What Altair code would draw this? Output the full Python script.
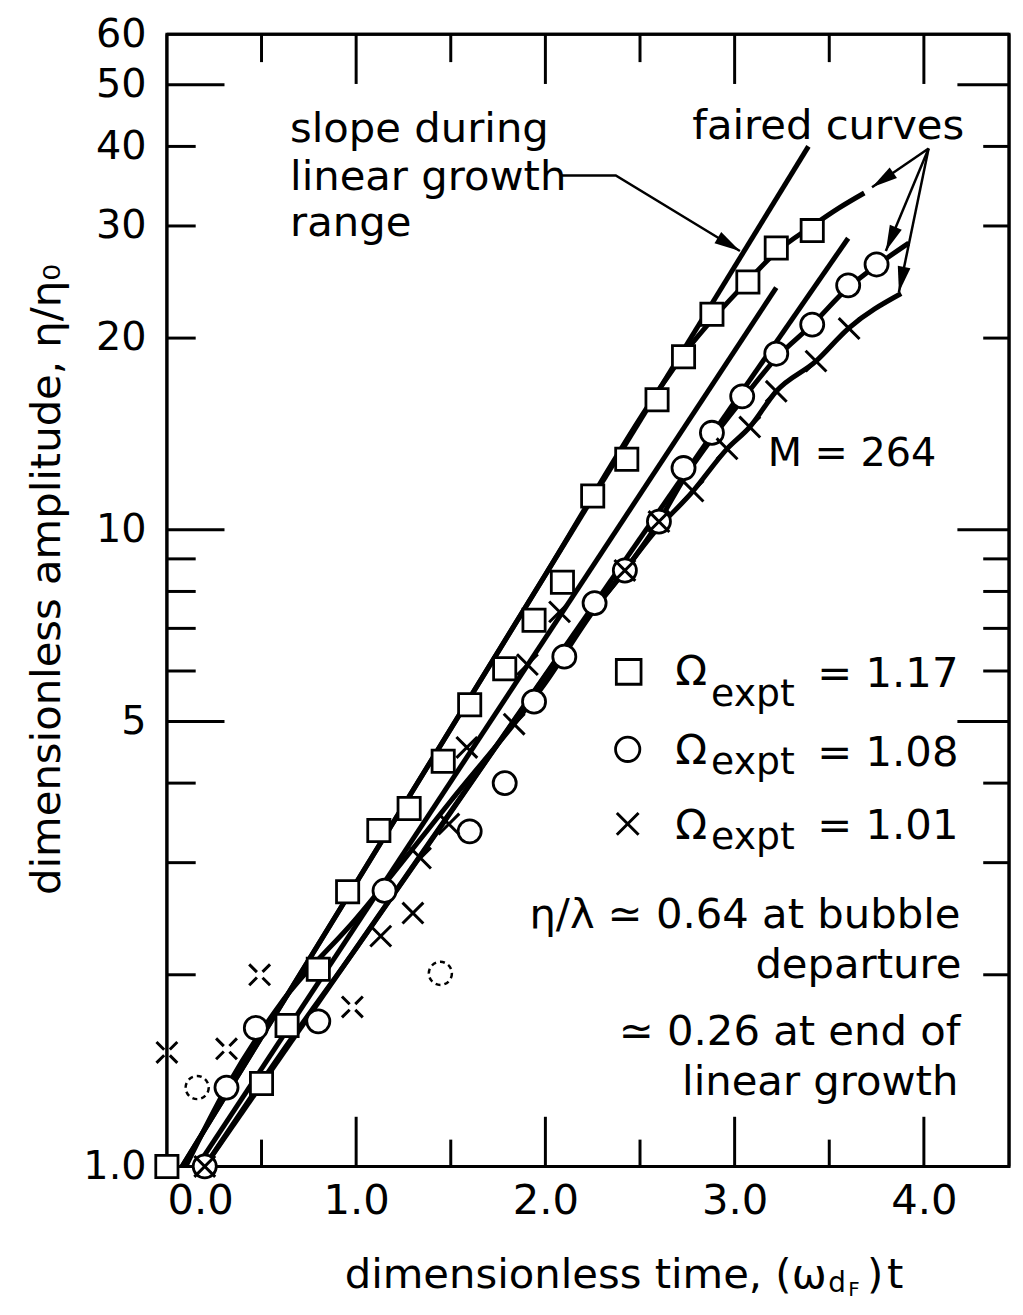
import math
import altair as alt
import pandas as pd

# ---------------- data ----------------
# squares: Omega_expt = 1.17
sq_t = [0.00, 0.50, 0.635, 0.80, 0.955, 1.12, 1.28, 1.46, 1.60, 1.785, 1.94, 2.09, 2.25, 2.43, 2.59, 2.73, 2.88, 3.07, 3.22, 3.41]
sq_a = [1.00, 1.35, 1.665, 2.04, 2.70, 3.37, 3.65, 4.33, 5.31, 6.05, 7.21, 8.27, 11.3, 12.9, 16.0, 18.7, 21.8, 24.5, 27.7, 29.5]

# circles: Omega_expt = 1.08
ci_t = [0.20, 0.315, 0.47, 0.80, 1.15, 1.60, 1.785, 1.94, 2.10, 2.26, 2.42, 2.60, 2.73, 2.88, 3.04, 3.22, 3.41, 3.60, 3.75]
ci_a = [1.00, 1.33, 1.65, 1.69, 2.71, 3.36, 4.00, 5.37, 6.32, 7.67, 8.63, 10.3, 12.5, 14.2, 16.2, 18.9, 21.0, 24.2, 26.1]
# dashed (doubtful) circles
ciq_t = [0.16, 1.445]
ciq_a = [1.33, 2.01]

# crosses: Omega_expt = 1.01
cr_t = [0.20, 1.13, 1.30, 1.34, 1.49, 1.585, 1.835, 1.905, 2.075, 2.42, 2.60, 2.78, 2.96, 3.08, 3.22, 3.43, 3.605]
cr_a = [1.00, 2.30, 2.50, 3.05, 3.45, 4.55, 4.95, 6.14, 7.43, 8.63, 10.3, 11.5, 13.4, 14.5, 16.5, 18.4, 20.7]
# dashed (doubtful) crosses
crq_t = [0.00, 0.315, 0.49, 0.98]
crq_a = [1.51, 1.53, 2.00, 1.78]

# slope lines during linear growth range
slope_sq_t = [0.08, 3.39]
slope_sq_a = [1.0, 40.0]
slope_b_t = [0.16, 3.22]
slope_b_a = [1.0, 24.0]
slope_c_t = [0.20, 3.60]
slope_c_a = [1.0, 28.7]

# faired curves
fair_sq_t = [0.08, 1.00, 2.00, 2.60, 2.75, 2.90, 3.07, 3.22, 3.41, 3.55, 3.685]
fair_sq_a = [1.0, 2.79, 8.50, 16.6, 19.2, 21.7, 24.6, 27.3, 30.0, 32.0, 33.8]
fair_ci_t = [0.10, 0.315, 0.60, 1.00, 1.50, 2.00, 2.26, 2.42, 2.60, 2.73, 2.88, 3.04, 3.22, 3.41, 3.60, 3.75, 3.92]
fair_ci_a = [1.0, 1.33, 1.80, 2.45, 3.75, 5.75, 7.50, 8.63, 10.3, 12.0, 13.9, 16.0, 18.6, 21.0, 24.0, 26.0, 28.2]
fair_cr_t = [0.20, 0.60, 1.00, 1.50, 2.00, 2.17, 2.39, 2.57, 2.78, 2.96, 3.08, 3.22, 3.43, 3.60, 3.88]
fair_cr_a = [1.0, 1.50, 2.20, 3.60, 5.90, 6.96, 8.41, 9.86, 11.5, 13.4, 14.5, 16.5, 18.4, 20.7, 23.5]

# axis ticks / labels
x_label_vals = [0, 1, 2, 3, 4]
x_major = [1, 2, 3, 4]
x_minor = [0.5, 1.5, 2.5, 3.5]
y_label_vals = [1, 5, 10, 20, 30, 40, 50, 60]
y_major = [5, 10, 50]
y_minor = [2, 3, 4, 6, 7, 8, 9, 20, 30, 40]

# annotation arrows (in data coordinates)
arrow_paths = [
    [(2.083, 36.0), (2.372, 36.0), (3.028, 27.4)],
    [(4.025, 39.7), (3.726, 34.5)],
    [(4.025, 39.7), (3.799, 27.4)],
    [(4.025, 39.7), (3.868, 23.6)],
]

# ---------------- chart ----------------
FONT = "DejaVu Sans"
W, H = 848, 1140
XMAX, YMAX = 4.45, 60.0

xs = alt.Scale(domain=[0, XMAX], nice=False, zero=False)
ys = alt.Scale(type="log", domain=[1, YMAX], nice=False)

xaxis = alt.Axis(values=x_label_vals, format=".1f", ticks=False, tickSize=0, domain=False,
                 grid=False, labelFontSize=42, labelPadding=14, labelColor="black",
                 labelFont=FONT, title=None, labelFlush=True, labelOverlap=False)
yaxis = alt.Axis(values=y_label_vals,
                 labelExpr="datum.value == 1 ? '1.0' : format(datum.value, 'd')",
                 ticks=False, tickSize=0, domain=False, grid=False, labelFontSize=40,
                 labelPadding=21, labelColor="black", labelFont=FONT, title=None,
                 labelFlush=False, labelOverlap=False)

X = alt.X("t:Q", scale=xs, axis=xaxis)
Y = alt.Y("a:Q", scale=ys, axis=yaxis)


def pts(t, a):
    return pd.DataFrame({"t": t, "a": a})


def pxx(t):
    return t / XMAX * W


def pxy(a):
    return H * (1 - math.log10(a) / math.log10(YMAX))


def inv_t(px):
    return px * XMAX / W


def inv_a(py):
    return 10 ** (math.log10(YMAX) * (1 - py / H))


layers = []
one = pd.DataFrame({"k": [0]})

# frame
layers += [
    alt.Chart(one).mark_rule(color="black", strokeWidth=3).encode(
        x=alt.value(0), x2=alt.value(W), y=alt.value(0)),
    alt.Chart(one).mark_rule(color="black", strokeWidth=3).encode(
        x=alt.value(0), x2=alt.value(W), y=alt.value(H)),
    alt.Chart(one).mark_rule(color="black", strokeWidth=3).encode(
        x=alt.value(0), y=alt.value(0), y2=alt.value(H)),
    alt.Chart(one).mark_rule(color="black", strokeWidth=3).encode(
        x=alt.value(W), y=alt.value(0), y2=alt.value(H)),
]


# ticks (drawn inward)
def xticks(vals, length, side):
    y0, y1 = (H, H - length) if side == "bottom" else (0, length)
    return alt.Chart(pd.DataFrame({"t": vals})).mark_rule(color="black", strokeWidth=3).encode(
        x=X, y=alt.value(y0), y2=alt.value(y1))


def yticks(vals, length, side):
    x0, x1 = (0, length) if side == "left" else (W, W - length)
    return alt.Chart(pd.DataFrame({"a": vals})).mark_rule(color="black", strokeWidth=3).encode(
        y=Y, x=alt.value(x0), x2=alt.value(x1))


layers += [
    xticks(x_major, 50, "bottom"), xticks(x_minor, 27, "bottom"),
    xticks(x_major, 50, "top"), xticks(x_minor, 28, "top"),
    yticks(y_major, 58, "left"), yticks(y_minor, 29, "left"),
    yticks(y_major, 52, "right"), yticks(y_minor, 26, "right"),
]

# curves
curves = [
    ("slope_sq", slope_sq_t, slope_sq_a), ("slope_b", slope_b_t, slope_b_a),
    ("slope_c", slope_c_t, slope_c_a), ("fair_sq", fair_sq_t, fair_sq_a),
    ("fair_ci", fair_ci_t, fair_ci_a), ("fair_cr", fair_cr_t, fair_cr_a),
]
rows = []
for name, ts, As in curves:
    for t, a in zip(ts, As):
        rows.append({"curve": name, "t": t, "a": a})
layers.append(alt.Chart(pd.DataFrame(rows)).mark_line(
    color="black", strokeWidth=5, interpolate="monotone").encode(x=X, y=Y, detail="curve:N"))

# arrows
arow = []
heads = []
L = 26
for i, path in enumerate(arrow_paths):
    for k, (t, a) in enumerate(path):
        arow.append({"id": i, "k": k, "t": t, "a": a})
    (t1, a1), (t2, a2) = path[-2], path[-1]
    x1, y1, x2, y2 = pxx(t1), pxy(a1), pxx(t2), pxy(a2)
    dx, dy = x2 - x1, y2 - y1
    n = math.hypot(dx, dy)
    ux, uy = dx / n, dy / n
    cx, cy = x2 - ux * L / 2, y2 - uy * L / 2
    ang = math.degrees(math.atan2(dx, -dy)) % 360
    heads.append({"t": inv_t(cx), "a": inv_a(cy), "ang": ang})
layers.append(alt.Chart(pd.DataFrame(arow)).mark_line(color="black", strokeWidth=2.5).encode(
    x=X, y=Y, detail="id:N", order="k:Q"))
layers.append(alt.Chart(pd.DataFrame(heads)).mark_point(
    shape="M0,-1L0.5,1L-0.5,1Z", size=L * L, filled=True, color="black", opacity=1).encode(
    x=X, y=Y, angle=alt.Angle("ang:Q", scale=None)))

# markers
XPATH = "M-1,-1L1,1M-1,1L1,-1"
layers.append(alt.Chart(pts(sq_t, sq_a)).mark_point(
    shape="square", size=500, filled=True, fill="white", stroke="black", strokeWidth=2.8,
    opacity=1).encode(x=X, y=Y))
layers.append(alt.Chart(pts(ci_t, ci_a)).mark_point(
    shape="circle", size=540, filled=True, fill="white", stroke="black", strokeWidth=2.8,
    opacity=1).encode(x=X, y=Y))
layers.append(alt.Chart(pts(ciq_t, ciq_a)).mark_point(
    shape="circle", size=540, filled=True, fill="white", stroke="black", strokeWidth=2.5,
    strokeDash=[5, 4], opacity=1).encode(x=X, y=Y))
layers.append(alt.Chart(pts(cr_t, cr_a)).mark_point(
    shape=XPATH, size=441, filled=False, stroke="black", strokeWidth=3,
    opacity=1).encode(x=X, y=Y))
layers.append(alt.Chart(pts(crq_t, crq_a)).mark_point(
    shape=XPATH, size=441, filled=False, stroke="black", strokeWidth=3,
    strokeDash=[11, 8], opacity=1).encode(x=X, y=Y))


# text annotations (pixel positions relative to the plot area)
def label(s, x, y, size=42, align="left", angle=0, baseline="alphabetic"):
    return alt.Chart(pd.DataFrame({"s": [s]})).mark_text(
        align=align, baseline=baseline, fontSize=size, font=FONT, color="black",
        angle=angle).encode(x=alt.value(x), y=alt.value(y), text="s:N")


layers += [
    label("slope during", 124, 108),
    label("linear growth", 124, 157),
    label("range", 124, 203),
    label("faired curves", 529, 105),
    label("M = 264", 605, 435, size=40),
    # legend
    label("Ω", 512, 655), label("expt", 548, 676, size=38), label("= 1.17", 655, 657),
    label("Ω", 512, 735), label("expt", 548, 745, size=38), label("= 1.08", 655, 737),
    label("Ω", 512, 810), label("expt", 548, 820, size=38), label("= 1.01", 655, 810),
    label("η/λ ≃ 0.64 at bubble", 799, 900, align="right"),
    label("departure", 800, 950, align="right"),
    label("≃ 0.26 at end of", 799, 1018, align="right"),
    label("linear growth", 797, 1068, align="right"),
    # axis titles
    label("dimensionless amplitude, η/η₀", -108, 549, align="center", angle=270),
    label("dimensionless time, (ω", 179, 1262),
    label("d", 666, 1266, size=28),
    label("F", 686, 1270, size=20),
    label(")", 705, 1262),
    label("t", 725, 1262),
]

layers.append(alt.Chart(one).mark_point(shape="square", size=620, filled=True, fill="white",
                                        stroke="black", strokeWidth=2.8, opacity=1).encode(
    x=alt.value(465), y=alt.value(642)))
layers.append(alt.Chart(one).mark_point(shape="circle", size=600, filled=True, fill="white",
                                        stroke="black", strokeWidth=2.8, opacity=1).encode(
    x=alt.value(464), y=alt.value(720)))
layers.append(alt.Chart(one).mark_point(shape=XPATH, size=480, filled=False, stroke="black",
                                        strokeWidth=3, opacity=1).encode(
    x=alt.value(464), y=alt.value(795)))

chart = alt.layer(*layers).properties(
    width=W, height=H,
    autosize=alt.AutoSizeParams(type="none"),
    padding={"left": 160, "top": 22, "right": 6, "bottom": 130},
).configure(font=FONT, view=alt.ViewConfig(stroke="black", strokeWidth=3))

chart.save("out.html", embed_options={"renderer": "svg", "actions": False})
